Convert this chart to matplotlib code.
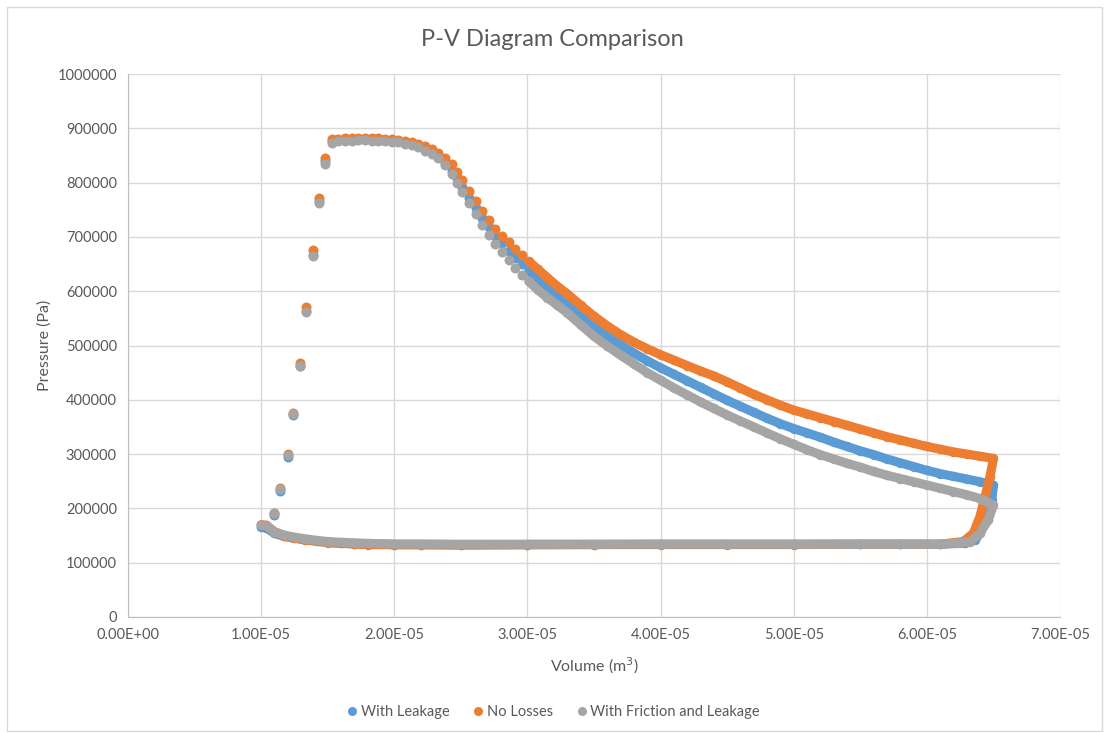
import numpy as np
import matplotlib.pyplot as plt
from matplotlib.lines import Line2D
from matplotlib.patches import Rectangle
from matplotlib.ticker import FuncFormatter, MultipleLocator

plt.rcParams['font.family'] = ['Lato', 'DejaVu Sans']

# volumes in 1e-5 m3, pressures in kPa (scaled when plotted)

# expansion (top) curve, shared volume grid
top_v = [1.53, 1.58, 1.63, 1.68, 1.73, 1.78, 1.83, 1.88, 1.93, 1.98, 2.03, 2.08, 2.13,
         2.18, 2.23, 2.28, 2.33, 2.38, 2.43, 2.47, 2.51, 2.56, 2.61, 2.66, 2.71, 2.76,
         2.81, 2.86, 2.91, 2.96, 3.01, 3.08, 3.15, 3.22, 3.3, 3.4, 3.5, 3.6, 3.7, 3.8,
         3.9, 4.0, 4.1, 4.2, 4.3, 4.4, 4.5, 4.6, 4.7, 4.8, 4.9, 5.0, 5.1, 5.2, 5.3, 5.4,
         5.5, 5.6, 5.7, 5.8, 5.9, 6.0, 6.1, 6.2, 6.3, 6.4, 6.5]

top_leak = [877, 879, 880, 880, 880, 880, 879.5, 879, 878, 877, 876, 874, 871,
            867, 862, 856, 848, 837, 822, 808, 791, 772, 753, 735, 718, 702,
            688, 674, 661, 650, 638, 622, 608, 593, 577, 555, 535, 517, 501, 486,
            472, 459, 447, 435, 423, 411, 399, 388, 377, 366, 356, 347, 339, 331, 322, 314,
            306, 299, 291, 284, 277, 270, 264, 259, 254, 249, 243]

top_noloss = [880, 881, 882, 882, 882, 882, 882, 881.5, 881, 880, 879, 877.5, 875,
              872, 868, 862, 855, 846, 834, 820, 804, 785, 766, 748, 731, 715,
              702, 690, 677, 666, 655, 640, 625, 610, 595, 574, 554, 536, 520, 506,
              494, 483, 473, 463, 453, 444, 433, 421.5, 410, 400, 390, 381, 374, 367, 360, 353,
              346, 339, 332, 326, 320, 314, 309, 304, 300, 296, 292]

top_fric = [873, 876, 877, 877.5, 878, 878, 877.5, 877, 876, 875, 874, 872, 869,
            865, 859, 853, 845, 833, 816, 800, 782, 762, 742, 722, 703, 687,
            672, 657, 643, 630, 618, 602, 588, 575, 560, 538, 517, 499, 482, 466,
            450, 436, 422, 409, 396, 384, 372, 361, 350, 339, 328, 318, 308, 299, 291, 283,
            276, 268, 261, 255, 249, 243, 237, 231, 225, 218, 206]

# pressure drop at maximum volume
drop_leak_v = [6.487, 6.45, 6.399, 6.362, 6.287]
drop_leak_p = [215, 185, 154, 142, 136]
drop_noloss_v = [6.474, 6.437, 6.399, 6.349, 6.274]
drop_noloss_p = [258, 222, 185, 154, 139]
drop_fric_v = [6.462, 6.399, 6.324, 6.224]
drop_fric_p = [179, 154, 139, 136]

# exhaust (bottom) curve, shared volume grid
bot_v = [6.1, 5.8, 5.5, 5.0, 4.5, 4.0, 3.5, 3.0, 2.5, 2.2, 2.0, 1.8, 1.7, 1.6, 1.5,
         1.42, 1.33, 1.25, 1.17, 1.1, 1.04, 1.0]
bot_leak = [134, 134, 134, 134, 134, 134, 133.5, 133.5, 133, 133.5, 133.5, 134.5, 135, 136, 137.5,
            139.5, 142, 145, 148.5, 154, 164, 165]
bot_noloss = [134, 134, 134, 133.5, 133.5, 133.5, 133.5, 133, 132.5, 133, 133, 133.5, 134.5, 135.5, 137,
              139.5, 142.5, 145.5, 150, 157, 169, 170]
bot_fric = [134, 134, 134, 134, 134, 134, 134, 134, 134, 134.5, 134.5, 135.5, 136.5, 137.5, 139,
            141, 144, 147, 151, 157, 168, 169]

# compression (left) branch, sparse points
rise_v = [1.097, 1.142, 1.202, 1.239, 1.292, 1.337, 1.389, 1.435, 1.48]
rise_leak = [188, 232, 295, 372, 463, 563, 667, 766, 839]
rise_noloss = [192, 237, 300, 376, 468, 570, 675, 772, 845]
rise_fric = [191.5, 235.7, 298.3, 373.8, 462.2, 561.7, 664.8, 762.4, 834.3]

series = [
    ("With Leakage", "#5B9BD5", top_leak, drop_leak_v, drop_leak_p, bot_leak, rise_leak),
    ("No Losses", "#ED7D31", top_noloss, drop_noloss_v, drop_noloss_p, bot_noloss, rise_noloss),
    ("With Friction and Leakage", "#A5A5A5", top_fric, drop_fric_v, drop_fric_p, bot_fric, rise_fric),
]

fig = plt.figure(figsize=(11.05, 7.33), dpi=100)
ax = fig.add_axes([128 / 1105, 1 - 617 / 733, (1060 - 128) / 1105, (617 - 74) / 733])

fig.patches.append(Rectangle((7 / 1105, 2 / 733), 1095 / 1105, 724 / 733,
                             transform=fig.transFigure, fill=False,
                             edgecolor="#d9d9d9", lw=1.0))

ms = 7.2
n_dots = top_v.index(3.01)  # dots are sparse enough to show apart up to here
handles = []
for name, color, top_p, dv, dp, bot_p, rise_p in series:
    # sparse part: separate markers
    dot_v = np.array(rise_v + top_v[:n_dots]) * 1e-5
    dot_p = np.array(rise_p + top_p[:n_dots]) * 1000
    ax.plot(dot_v, dot_p, "o", color=color, ms=ms, mew=0)
    # dense part: markers merge into a band
    band_v = np.array(top_v[n_dots:] + dv + bot_v) * 1e-5
    band_p = np.array(top_p[n_dots:] + dp + bot_p) * 1000
    ax.plot(band_v, band_p, "-o", color=color, lw=6.6, ms=6.8, mew=0,
            solid_joinstyle="round", solid_capstyle="round")
    handles.append(Line2D([], [], marker="o", ls="none", color=color, ms=6.5, mew=0,
                          label=name))

ax.set_xlim(0, 7e-5)
ax.set_ylim(0, 1000000)
ax.xaxis.set_major_locator(MultipleLocator(1e-5))
ax.yaxis.set_major_locator(MultipleLocator(100000))
ax.xaxis.set_major_formatter(FuncFormatter(lambda x, pos: f"{x:.2E}"))
ax.yaxis.set_major_formatter(FuncFormatter(lambda y, pos: f"{int(round(y))}"))
ax.grid(True, color="#d9d9d9", lw=1.0)
ax.set_axisbelow(True)
for side in ["top", "right"]:
    ax.spines[side].set_visible(False)
for side in ["left", "bottom"]:
    ax.spines[side].set_color("#bfbfbf")
ax.tick_params(length=0, colors="#595959", labelsize=10.5, pad=8)

ax.set_xlabel("Volume (m$^3$)", color="#595959", fontsize=11.5, labelpad=10)
ax.set_ylabel("Pressure (Pa)", color="#595959", fontsize=11.5, labelpad=4)
fig.text(0.5, 1 - 40 / 733, "P-V Diagram Comparison", ha="center", va="center",
         color="#595959", fontsize=17)

fig.legend(handles=handles, loc="center", bbox_to_anchor=(0.5, 1 - 712 / 733), ncol=3,
           frameon=False, fontsize=10.5, handletextpad=0.1, columnspacing=1.45,
           handlelength=1.0, labelcolor="#595959")

fig.savefig("out.png", dpi=100)
